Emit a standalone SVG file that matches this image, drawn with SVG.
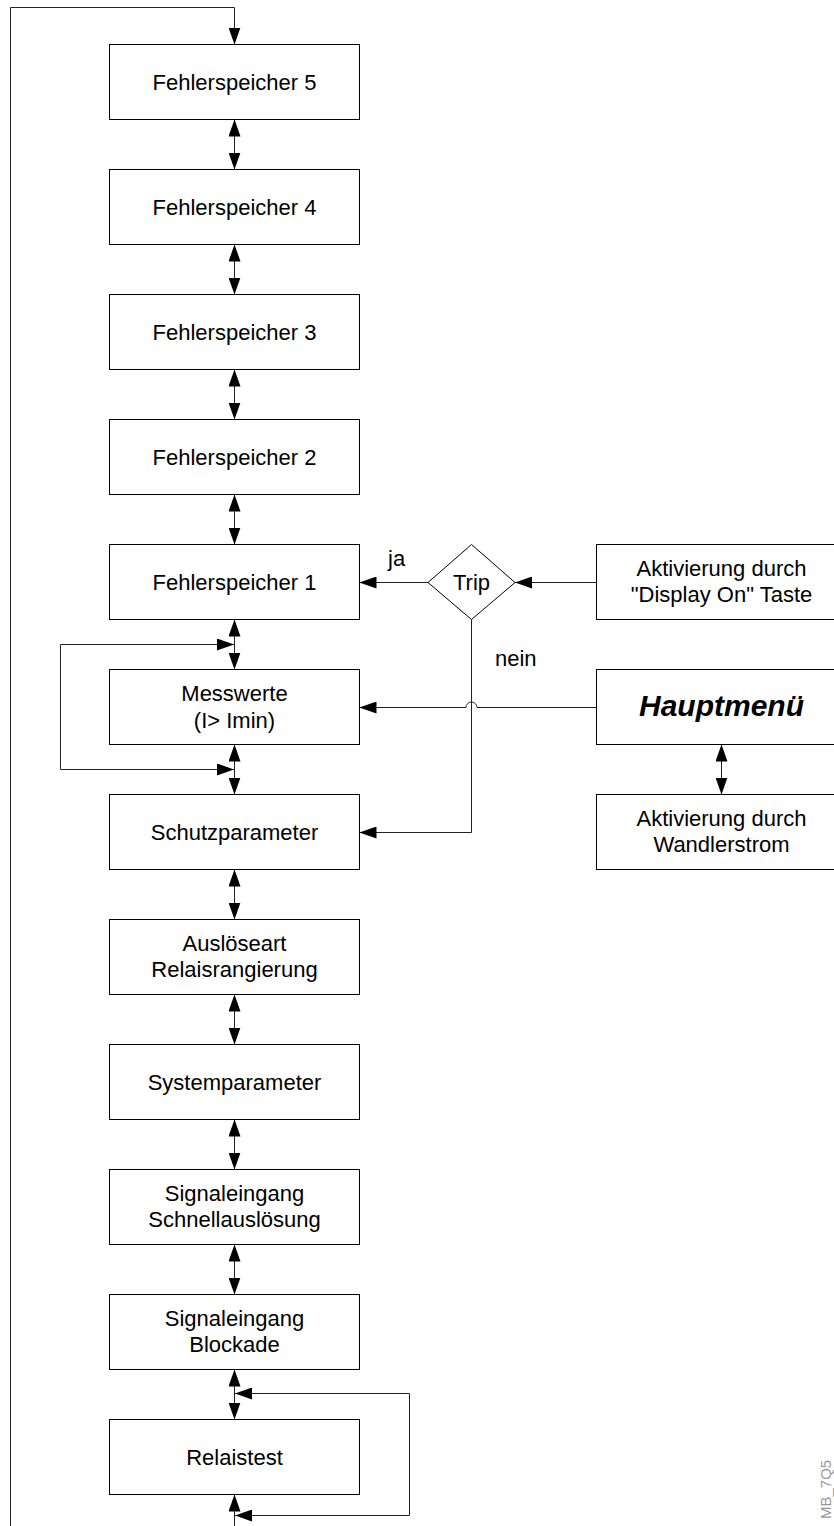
<svg xmlns="http://www.w3.org/2000/svg" width="834" height="1526" viewBox="0 0 834 1526">
<defs>
<style>
.box{fill:#fff;stroke:#000;stroke-width:1}
.t{font-family:"Liberation Sans",Arial,sans-serif;font-size:22px;fill:#000;text-anchor:middle}
.lbl{font-family:"Liberation Sans",Arial,sans-serif;font-size:22px;fill:#000}
.c{fill:none;stroke:#222;stroke-width:1}
.ah{marker-end:url(#ah)}
.dbl{marker-start:url(#ah);marker-end:url(#ah)}
</style>
<marker id="ah" markerUnits="userSpaceOnUse" markerWidth="17" markerHeight="12" viewBox="0 0 17 12" refX="17" refY="6" orient="auto-start-reverse">
<path d="M0,0 L17,6 L0,12 z" fill="#000"/>
</marker>
</defs>
<rect width="834" height="1526" fill="#fff"/>

<g id="connectors">
<path class="c ah" d="M10.5,1526 V7.5 H234.5 V44.5"/>
<path class="c dbl" d="M234.5,119.5 V169.5"/>
<path class="c dbl" d="M234.5,244.5 V294.5"/>
<path class="c dbl" d="M234.5,369.5 V419.5"/>
<path class="c dbl" d="M234.5,494.5 V544.5"/>
<path class="c dbl" d="M234.5,619.5 V669.5"/>
<path class="c dbl" d="M234.5,744.5 V794.5"/>
<path class="c dbl" d="M234.5,869.5 V919.5"/>
<path class="c dbl" d="M234.5,994.5 V1044.5"/>
<path class="c dbl" d="M234.5,1119.5 V1169.5"/>
<path class="c dbl" d="M234.5,1244.5 V1294.5"/>
<path class="c dbl" d="M234.5,1369.5 V1419.5"/>
<path class="c ah" d="M234.5,1526 V1494.5"/>
<path class="c dbl" d="M234,644.5 H60.5 V769.5 H234"/>
<path class="c dbl" d="M235,1393.5 H409.5 V1515.5 H235"/>
<path class="c ah" d="M596.5,582.5 H515"/>
<path class="c ah" d="M428,582.5 H359.5"/>
<path class="c ah" d="M471.5,619.5 V832.5 H359.5"/>
<path class="c ah" d="M596.5,707.5 H477 A5.5,5.5 0 0 0 466,707.5 H359.5"/>
<path class="c dbl" d="M721.5,744.5 V794.5"/>
<text class="lbl" x="388" y="566">ja</text>
<text class="lbl" x="495" y="666">nein</text>
</g>

<g id="fs5"><rect class="box" x="109.5" y="44.5" width="250" height="75"/><text class="t" x="234.5" y="89.5">Fehlerspeicher 5</text></g>
<g id="fs4"><rect class="box" x="109.5" y="169.5" width="250" height="75"/><text class="t" x="234.5" y="214.5">Fehlerspeicher 4</text></g>
<g id="fs3"><rect class="box" x="109.5" y="294.5" width="250" height="75"/><text class="t" x="234.5" y="339.5">Fehlerspeicher 3</text></g>
<g id="fs2"><rect class="box" x="109.5" y="419.5" width="250" height="75"/><text class="t" x="234.5" y="464.5">Fehlerspeicher 2</text></g>
<g id="fs1"><rect class="box" x="109.5" y="544.5" width="250" height="75"/><text class="t" x="234.5" y="589.5">Fehlerspeicher 1</text></g>
<g id="messwerte"><rect class="box" x="109.5" y="669.5" width="250" height="75"/><text class="t" x="234.5" y="700.5">Messwerte</text><text class="t" x="234.5" y="727.5">(I&gt; Imin)</text></g>
<g id="schutz"><rect class="box" x="109.5" y="794.5" width="250" height="75"/><text class="t" x="234.5" y="839.5">Schutzparameter</text></g>
<g id="ausloese"><rect class="box" x="109.5" y="919.5" width="250" height="75"/><text class="t" x="234.5" y="950.5">Auslöseart</text><text class="t" x="234.5" y="977">Relaisrangierung</text></g>
<g id="system"><rect class="box" x="109.5" y="1044.5" width="250" height="75"/><text class="t" x="234.5" y="1089.5">Systemparameter</text></g>
<g id="schnell"><rect class="box" x="109.5" y="1169.5" width="250" height="75"/><text class="t" x="234.5" y="1200.5">Signaleingang</text><text class="t" x="234.5" y="1227">Schnellauslösung</text></g>
<g id="blockade"><rect class="box" x="109.5" y="1294.5" width="250" height="75"/><text class="t" x="234.5" y="1325.5">Signaleingang</text><text class="t" x="234.5" y="1352">Blockade</text></g>
<g id="relaistest"><rect class="box" x="109.5" y="1419.5" width="250" height="75"/><text class="t" x="234.5" y="1464.5">Relaistest</text></g>

<g id="trip"><polygon class="box" points="471.5,544.5 515,582.5 471.5,619.5 428,582.5"/><text class="t" x="471.5" y="590">Trip</text></g>
<g id="display"><rect class="box" x="596.5" y="544.5" width="250" height="75"/><text class="t" x="721.5" y="576">Aktivierung durch</text><text class="t" x="721.5" y="602">"Display On" Taste</text></g>
<g id="hauptmenu"><rect class="box" x="596.5" y="669.5" width="250" height="75"/><text class="t" x="721.5" y="716" style="font-size:30px;font-weight:bold;font-style:italic">Hauptmenü</text></g>
<g id="wandler"><rect class="box" x="596.5" y="794.5" width="250" height="75"/><text class="t" x="721.5" y="826">Aktivierung durch</text><text class="t" x="721.5" y="852">Wandlerstrom</text></g>

<text x="0" y="0" transform="translate(831,1519) rotate(-90)" style="font-family:'Liberation Sans',Arial,sans-serif;font-size:15px;fill:#999">MB_7Q5</text>
</svg>
